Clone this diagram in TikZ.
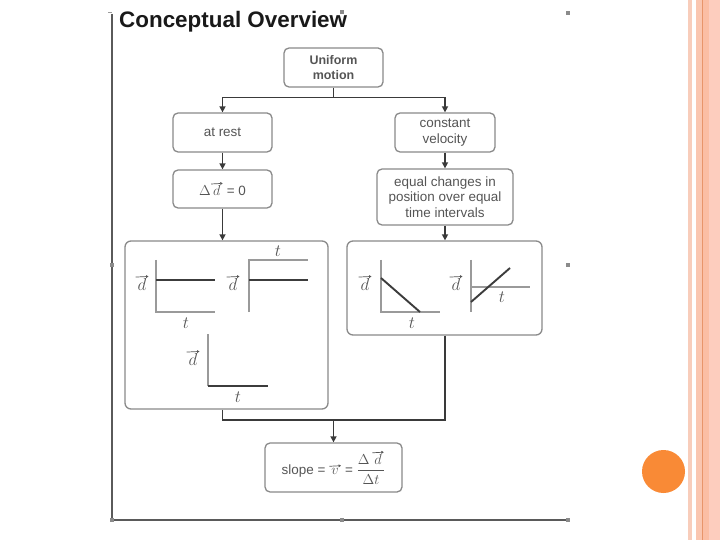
\documentclass[tikz,border=0pt]{standalone}
\usepackage{fontspec}
\setmainfont{Liberation Sans}
\usetikzlibrary{arrows.meta}
\definecolor{boxline}{HTML}{8A8A8A}
\definecolor{txt}{HTML}{555555}
\definecolor{conn}{HTML}{3A3A3A}
\definecolor{axiscol}{HTML}{9A9A9A}
\definecolor{dline}{HTML}{3C3C3C}
\definecolor{framecol}{HTML}{5A5A5A}
\definecolor{stripeA}{HTML}{F8CDBB}
\definecolor{stripeB}{HTML}{FAC6B0}
\definecolor{stripeC}{HTML}{E8956A}
\definecolor{stripeD}{HTML}{FBBEA4}
\definecolor{stripeE}{HTML}{FDCDBE}
\definecolor{dotcol}{HTML}{F98A36}
% a letter with a drawn vector arrow above it
\newcommand\vecletter[1]{\tikz[baseline=(vl.base),x=1bp,y=1bp,line width=0.7bp]{%
  \node[inner sep=0pt,outer sep=0pt,minimum width=0pt,minimum height=0pt,draw=none,fill=none,
        rounded corners=0pt,anchor=center,text=txt] (vl) {$#1$};%
  \draw[txt,-{Triangle[length=2.4bp,width=2.8bp]}] ([xshift=-2bp,yshift=1.8bp]vl.north west) -- ([xshift=2.2bp,yshift=2.4bp]vl.north east);}}
\begin{document}
\begin{tikzpicture}[x=1bp,y=-1bp,
  fbox/.style={draw=boxline, line width=1.3bp, rounded corners=5bp, text=txt, align=center,
     font=\fontsize{13.5}{15.5}\selectfont, inner sep=0pt},
  panel/.style={draw=boxline, line width=1.3bp, rounded corners=6bp, inner sep=0pt},
  ln/.style={draw=conn, line width=1.6bp},
  arr/.style={draw=conn, line width=1.6bp, -{Triangle[length=6bp,width=6bp]}},
  axisln/.style={draw=axiscol, line width=1.6bp},
  dataln/.style={draw=dline, line width=1.9bp},
  lbl/.style={text=txt, inner sep=0pt, font=\fontsize{16}{18}\selectfont},
  handle/.style={fill=framecol!70, draw=none}]
\useasboundingbox (0,0) rectangle (720,540);
\fill[white] (0,0) rectangle (720,540);
% right decoration
\fill[stripeA] (688,0) rectangle (692,540);
\fill[stripeB] (696,0) rectangle (702,540);
\fill[stripeC] (702,0) rectangle (703.2,540);
\fill[stripeD] (703.2,0) rectangle (709,540);
\fill[stripeE] (709,0) rectangle (720,540);
\fill[dotcol] (663.5,471.5) circle (21.5);
% frame of the picture
\draw[framecol, line width=2bp] (112,14) -- (112,520);
\draw[framecol, line width=2.6bp] (112,520) -- (568,520);
\foreach \p in {(112,265),(112,520),(342,520),(568,520),(568,265),(568,13),(342,12)}
  \fill[handle] \p ++(-2,-2) rectangle ++(4,4);
\draw[framecol!60, line width=1bp] (108,13) -- (112,13);
% title
\node[anchor=west, inner sep=0pt, font=\fontsize{22.5}{26}\selectfont\bfseries, text=black!90] (title) at (119,22) {Conceptual Overview};
% boxes
\node[fbox, minimum width=99bp, minimum height=39bp, font=\fontsize{12.5}{15}\selectfont\bfseries] (u) at (333.5,67.5) {Uniform\\motion};
\node[fbox, minimum width=99bp, minimum height=39bp] (a) at (222.5,132.5) {at rest};
\node[fbox, minimum width=100bp, minimum height=39bp] (c) at (445,132.5) {constant\\velocity};
\node[fbox, minimum width=99bp, minimum height=38bp] (dz) at (222.5,189) {$\Delta$\vecletter{d} = 0};
\node[fbox, minimum width=136bp, minimum height=56bp] (eq) at (445,197) {equal changes in\\position over equal\\time intervals};
\node[panel, minimum width=203bp, minimum height=168bp] (lp) at (226.5,325) {};
\node[panel, minimum width=195bp, minimum height=94bp] (rp) at (444.5,288) {};
\node[fbox, minimum width=137bp, minimum height=49bp] (s) at (333.5,467.5) {slope = \vecletter{v} = $\displaystyle\frac{\Delta\,\hbox{\vecletter{d}}}{\Delta t}$};
% connectors
\draw[ln] (u.south) -- ++(0,10) coordinate (uj);
\draw[arr] (uj) -| (a.north);
\draw[arr] (uj) -| (c.north);
\draw[arr] (a) -- (dz);
\draw[arr] (c) -- (eq);
\draw[arr] (dz.south) -- (dz.south |- lp.north);
\draw[arr] (eq.south) -- (eq.south |- rp.north);
\coordinate (m) at (333.5,420);
\draw[ln] (dz.south |- lp.south) |- (m);
\draw[ln] (eq.south |- rp.south) |- (m);
\draw[arr] (m) -- (s.north);
% graph 1
\draw[axisln] (156,260) -- (156,312) -- (215,312);
\draw[dataln] (156,280) -- (215,280);
\node[lbl] (g1d) at (142,283) {\vecletter{d}};
\node[lbl] (g1t) at (186,323) {$t$};
% graph 2
\draw[axisln] (249,312) -- (249,260) -- (308,260);
\draw[dataln] (249,280) -- (308,280);
\node[lbl] (g2d) at (233,283) {\vecletter{d}};
\node[lbl] (g2t) at (278,251) {$t$};
% graph 3
\draw[axisln] (208,334) -- (208,386);
\draw[dataln] (208,386) -- (268,386);
\node[lbl] (g3d) at (193,358) {\vecletter{d}};
\node[lbl] (g3t) at (238,397) {$t$};
% graph 4
\draw[axisln] (381,260) -- (381,312) -- (440,312);
\draw[dataln] (381,278) -- (420,312);
\node[lbl] (g4d) at (365,283) {\vecletter{d}};
\node[lbl] (g4t) at (412,323) {$t$};
% graph 5
\draw[axisln] (471,260) -- (471,312);
\draw[axisln] (471,287) -- (530,287);
\draw[dataln] (471,302) -- (510,268);
\node[lbl] (g5d) at (456,283) {\vecletter{d}};
\node[lbl] (g5t) at (502,297) {$t$};
\end{tikzpicture}
\end{document}
